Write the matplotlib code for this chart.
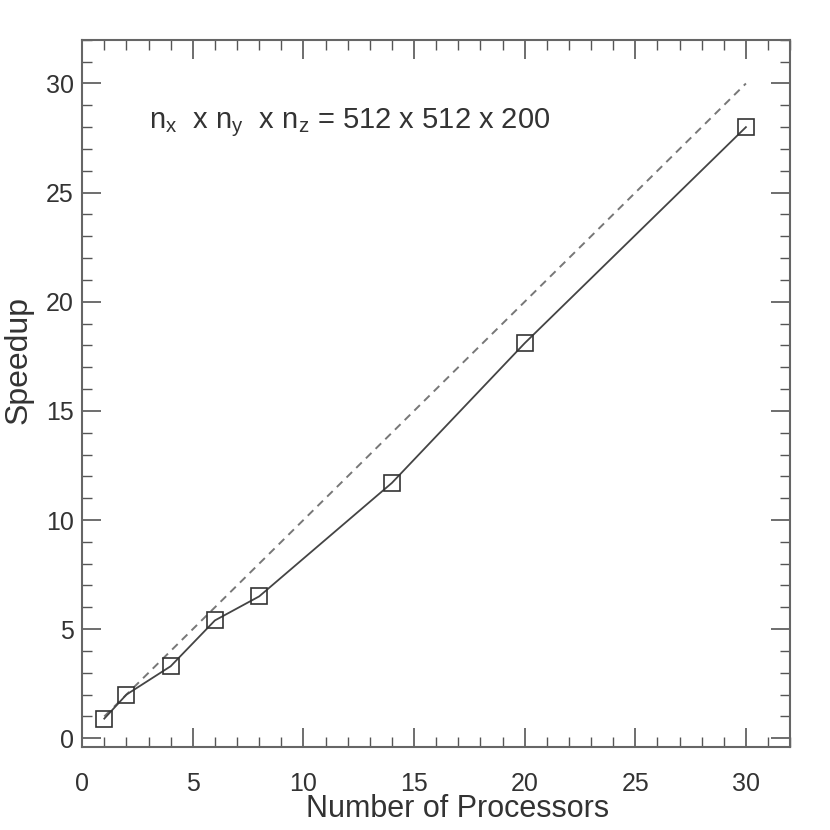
import matplotlib.pyplot as plt
from matplotlib.ticker import MultipleLocator

plt.rcParams['font.family'] = ['Liberation Sans', 'DejaVu Sans']
plt.rcParams['mathtext.fontset'] = 'custom'
plt.rcParams['mathtext.rm'] = 'Liberation Sans'

# measured speedup
procs = [1, 2, 4, 6, 8, 14, 20, 30]
speedup = [0.9, 2.0, 3.3, 5.4, 6.5, 11.7, 18.1, 28.0]

# ideal speedup
ideal_x = [1, 30]
ideal_y = [1, 30]

fig = plt.figure(figsize=(8.3, 8.3), dpi=100)
ax = fig.add_axes([0.099, 0.100, 0.853, 0.852])

ax.plot(ideal_x, ideal_y, linestyle=(0, (4, 3)), color='#777777', linewidth=1.4)
ax.plot(procs, speedup, color='#444444', linewidth=1.3, marker='s', markersize=11.5,
        markerfacecolor='none', markeredgecolor='#333333', markeredgewidth=1.2)

ax.set_xlim(0, 32)
ax.set_ylim(-0.4, 32)
ax.xaxis.set_major_locator(MultipleLocator(5))
ax.xaxis.set_minor_locator(MultipleLocator(1))
ax.yaxis.set_major_locator(MultipleLocator(5))
ax.yaxis.set_minor_locator(MultipleLocator(1))
ax.tick_params(which='both', direction='in', top=True, right=True,
               color='#555555', labelsize=18, labelcolor='#333333')
ax.tick_params(axis='x', pad=18)
ax.tick_params(axis='y', pad=6)
ax.tick_params(which='major', length=14, width=1.2)
ax.tick_params(which='minor', length=7, width=1.0)
for s in ax.spines.values():
    s.set_color('#666666')
    s.set_linewidth(1.5)

ax.set_xlabel('Number of Processors', fontsize=22, color='#333333')
ax.xaxis.set_label_coords(0.53, -0.066)
ax.set_ylabel('Speedup', fontsize=23, color='#333333')
ax.yaxis.set_label_coords(-0.068, 0.547)

ax.text(3.0, 28.2, r'n$_\mathregular{x}$  x n$_\mathregular{y}$  x n$_\mathregular{z}$ = 512 x 512 x 200',
        fontsize=21, color='#333333', va='center', ha='left')

plt.savefig('out.png', dpi=100)
